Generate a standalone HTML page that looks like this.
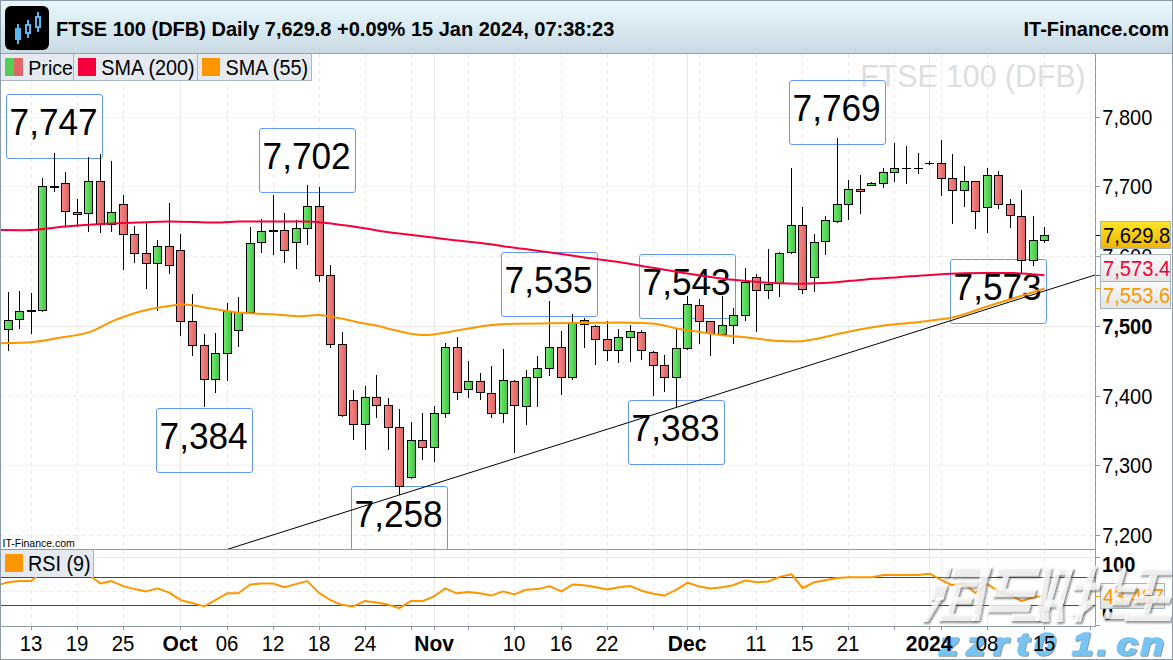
<!DOCTYPE html>
<html><head><meta charset="utf-8"><title>FTSE 100 chart</title>
<style>html,body{margin:0;padding:0;background:#fff;}body{width:1173px;height:660px;overflow:hidden;position:relative;font-family:"Liberation Sans",sans-serif;}</style>
</head><body>
<svg width="1173" height="660" viewBox="0 0 1173 660" style="position:absolute;left:0;top:0" font-family="Liberation Sans, sans-serif"><defs>
<linearGradient id="hdr" x1="0" y1="0" x2="0" y2="1"><stop offset="0" stop-color="#e8f9fe"/><stop offset="1" stop-color="#c8d9e2"/></linearGradient>
<linearGradient id="gG" x1="0" y1="0" x2="1" y2="0"><stop offset="0" stop-color="#6ee86e"/><stop offset="1" stop-color="#44c844"/></linearGradient>
<linearGradient id="gR" x1="0" y1="0" x2="1" y2="0"><stop offset="0" stop-color="#f88686"/><stop offset="1" stop-color="#dc6464"/></linearGradient>
<linearGradient id="gY" x1="0" y1="0" x2="0" y2="1"><stop offset="0" stop-color="#ffe428"/><stop offset="1" stop-color="#f0b400"/></linearGradient>
<linearGradient id="gW" x1="0" y1="0" x2="0" y2="1"><stop offset="0" stop-color="#fbfbfb"/><stop offset="1" stop-color="#e4e4e4"/></linearGradient>
<clipPath id="cMain"><rect x="1" y="54" width="1094" height="495"/></clipPath>
<clipPath id="cRsi"><rect x="1" y="550" width="1094" height="76"/></clipPath>
<filter id="wsh" x="-10%" y="-10%" width="130%" height="130%"><feGaussianBlur in="SourceAlpha" stdDeviation="1"/><feOffset dx="2" dy="2" result="b"/><feFlood flood-color="#444" flood-opacity="0.85"/><feComposite in2="b" operator="in" result="s"/><feMerge><feMergeNode in="s"/><feMergeNode in="SourceGraphic"/></feMerge></filter>
<filter id="bsh" x="-10%" y="-10%" width="130%" height="130%"><feOffset in="SourceAlpha" dx="1.2" dy="1.2" result="o"/><feFlood flood-color="#8090a8" flood-opacity="0.9"/><feComposite in2="o" operator="in" result="s"/><feMerge><feMergeNode in="s"/><feMergeNode in="SourceGraphic"/></feMerge></filter>
</defs><rect x="0" y="0" width="1173" height="660" fill="#ffffff"/><rect x="0" y="0" width="1173" height="54" fill="url(#hdr)"/><rect x="0" y="53" width="1173" height="1" fill="#8fa2ad"/><rect x="5" y="6" width="44" height="44" rx="6" fill="#000"/><rect x="17" y="24" width="2" height="20" fill="#5cb6ee"/><rect x="15" y="28" width="6" height="12" fill="#5cb6ee"/><rect x="27" y="20" width="2" height="18" fill="#5cb6ee"/><rect x="26" y="25" width="4" height="8" fill="#000" stroke="#5cb6ee" stroke-width="2"/><rect x="37" y="12" width="2" height="20" fill="#5cb6ee"/><rect x="36" y="17" width="4" height="10" fill="#000" stroke="#5cb6ee" stroke-width="2"/><text transform="translate(56,36) scale(1,1.04)" font-size="20" fill="#000" font-weight="bold">FTSE 100 (DFB) Daily 7,629.8 +0.09% 15 Jan 2024, 07:38:23</text><text transform="translate(1169,36) scale(1,1.04)" font-size="20" fill="#000" font-weight="bold" text-anchor="end">IT-Finance.com</text><line x1="1" y1="117.5" x2="1095" y2="117.5" stroke="#eaeaea" stroke-width="1" stroke-dasharray="4,4"/><line x1="1" y1="186.5" x2="1095" y2="186.5" stroke="#eaeaea" stroke-width="1" stroke-dasharray="4,4"/><line x1="1" y1="256.5" x2="1095" y2="256.5" stroke="#eaeaea" stroke-width="1" stroke-dasharray="4,4"/><line x1="1" y1="326.5" x2="1095" y2="326.5" stroke="#eaeaea" stroke-width="1"/><line x1="1" y1="396.5" x2="1095" y2="396.5" stroke="#eaeaea" stroke-width="1" stroke-dasharray="4,4"/><line x1="1" y1="465.5" x2="1095" y2="465.5" stroke="#eaeaea" stroke-width="1" stroke-dasharray="4,4"/><line x1="1" y1="535.5" x2="1095" y2="535.5" stroke="#eaeaea" stroke-width="1" stroke-dasharray="4,4"/><line x1="31.5" y1="54" x2="31.5" y2="549" stroke="#eaeaea" stroke-width="1" stroke-dasharray="4,4"/><line x1="31.5" y1="550" x2="31.5" y2="626" stroke="#eaeaea" stroke-width="1" stroke-dasharray="4,4"/><line x1="77.5" y1="54" x2="77.5" y2="549" stroke="#eaeaea" stroke-width="1" stroke-dasharray="4,4"/><line x1="77.5" y1="550" x2="77.5" y2="626" stroke="#eaeaea" stroke-width="1" stroke-dasharray="4,4"/><line x1="123.5" y1="54" x2="123.5" y2="549" stroke="#eaeaea" stroke-width="1" stroke-dasharray="4,4"/><line x1="123.5" y1="550" x2="123.5" y2="626" stroke="#eaeaea" stroke-width="1" stroke-dasharray="4,4"/><line x1="180.5" y1="54" x2="180.5" y2="549" stroke="#e8e8e8" stroke-width="1"/><line x1="180.5" y1="550" x2="180.5" y2="626" stroke="#e8e8e8" stroke-width="1"/><line x1="227.5" y1="54" x2="227.5" y2="549" stroke="#eaeaea" stroke-width="1" stroke-dasharray="4,4"/><line x1="227.5" y1="550" x2="227.5" y2="626" stroke="#eaeaea" stroke-width="1" stroke-dasharray="4,4"/><line x1="273.5" y1="54" x2="273.5" y2="549" stroke="#eaeaea" stroke-width="1" stroke-dasharray="4,4"/><line x1="273.5" y1="550" x2="273.5" y2="626" stroke="#eaeaea" stroke-width="1" stroke-dasharray="4,4"/><line x1="319.5" y1="54" x2="319.5" y2="549" stroke="#eaeaea" stroke-width="1" stroke-dasharray="4,4"/><line x1="319.5" y1="550" x2="319.5" y2="626" stroke="#eaeaea" stroke-width="1" stroke-dasharray="4,4"/><line x1="365.5" y1="54" x2="365.5" y2="549" stroke="#eaeaea" stroke-width="1" stroke-dasharray="4,4"/><line x1="365.5" y1="550" x2="365.5" y2="626" stroke="#eaeaea" stroke-width="1" stroke-dasharray="4,4"/><line x1="411.5" y1="54" x2="411.5" y2="549" stroke="#eaeaea" stroke-width="1" stroke-dasharray="4,4"/><line x1="411.5" y1="550" x2="411.5" y2="626" stroke="#eaeaea" stroke-width="1" stroke-dasharray="4,4"/><line x1="434.5" y1="54" x2="434.5" y2="549" stroke="#e8e8e8" stroke-width="1"/><line x1="434.5" y1="550" x2="434.5" y2="626" stroke="#e8e8e8" stroke-width="1"/><line x1="468.5" y1="54" x2="468.5" y2="549" stroke="#eaeaea" stroke-width="1" stroke-dasharray="4,4"/><line x1="468.5" y1="550" x2="468.5" y2="626" stroke="#eaeaea" stroke-width="1" stroke-dasharray="4,4"/><line x1="514.5" y1="54" x2="514.5" y2="549" stroke="#eaeaea" stroke-width="1" stroke-dasharray="4,4"/><line x1="514.5" y1="550" x2="514.5" y2="626" stroke="#eaeaea" stroke-width="1" stroke-dasharray="4,4"/><line x1="561.5" y1="54" x2="561.5" y2="549" stroke="#eaeaea" stroke-width="1" stroke-dasharray="4,4"/><line x1="561.5" y1="550" x2="561.5" y2="626" stroke="#eaeaea" stroke-width="1" stroke-dasharray="4,4"/><line x1="607.5" y1="54" x2="607.5" y2="549" stroke="#eaeaea" stroke-width="1" stroke-dasharray="4,4"/><line x1="607.5" y1="550" x2="607.5" y2="626" stroke="#eaeaea" stroke-width="1" stroke-dasharray="4,4"/><line x1="653.5" y1="54" x2="653.5" y2="549" stroke="#eaeaea" stroke-width="1" stroke-dasharray="4,4"/><line x1="653.5" y1="550" x2="653.5" y2="626" stroke="#eaeaea" stroke-width="1" stroke-dasharray="4,4"/><line x1="687.5" y1="54" x2="687.5" y2="549" stroke="#e8e8e8" stroke-width="1"/><line x1="687.5" y1="550" x2="687.5" y2="626" stroke="#e8e8e8" stroke-width="1"/><line x1="699.5" y1="54" x2="699.5" y2="549" stroke="#eaeaea" stroke-width="1" stroke-dasharray="4,4"/><line x1="699.5" y1="550" x2="699.5" y2="626" stroke="#eaeaea" stroke-width="1" stroke-dasharray="4,4"/><line x1="756.5" y1="54" x2="756.5" y2="549" stroke="#eaeaea" stroke-width="1" stroke-dasharray="4,4"/><line x1="756.5" y1="550" x2="756.5" y2="626" stroke="#eaeaea" stroke-width="1" stroke-dasharray="4,4"/><line x1="802.5" y1="54" x2="802.5" y2="549" stroke="#eaeaea" stroke-width="1" stroke-dasharray="4,4"/><line x1="802.5" y1="550" x2="802.5" y2="626" stroke="#eaeaea" stroke-width="1" stroke-dasharray="4,4"/><line x1="848.5" y1="54" x2="848.5" y2="549" stroke="#eaeaea" stroke-width="1" stroke-dasharray="4,4"/><line x1="848.5" y1="550" x2="848.5" y2="626" stroke="#eaeaea" stroke-width="1" stroke-dasharray="4,4"/><line x1="894.5" y1="54" x2="894.5" y2="549" stroke="#eaeaea" stroke-width="1" stroke-dasharray="4,4"/><line x1="894.5" y1="550" x2="894.5" y2="626" stroke="#eaeaea" stroke-width="1" stroke-dasharray="4,4"/><line x1="929.5" y1="54" x2="929.5" y2="549" stroke="#e8e8e8" stroke-width="1"/><line x1="929.5" y1="550" x2="929.5" y2="626" stroke="#e8e8e8" stroke-width="1"/><line x1="941.5" y1="54" x2="941.5" y2="549" stroke="#eaeaea" stroke-width="1" stroke-dasharray="4,4"/><line x1="941.5" y1="550" x2="941.5" y2="626" stroke="#eaeaea" stroke-width="1" stroke-dasharray="4,4"/><line x1="987.5" y1="54" x2="987.5" y2="549" stroke="#eaeaea" stroke-width="1" stroke-dasharray="4,4"/><line x1="987.5" y1="550" x2="987.5" y2="626" stroke="#eaeaea" stroke-width="1" stroke-dasharray="4,4"/><line x1="1044.5" y1="54" x2="1044.5" y2="549" stroke="#eaeaea" stroke-width="1" stroke-dasharray="4,4"/><line x1="1044.5" y1="550" x2="1044.5" y2="626" stroke="#eaeaea" stroke-width="1" stroke-dasharray="4,4"/><line x1="1090.5" y1="54" x2="1090.5" y2="549" stroke="#eaeaea" stroke-width="1" stroke-dasharray="4,4"/><line x1="1090.5" y1="550" x2="1090.5" y2="626" stroke="#eaeaea" stroke-width="1" stroke-dasharray="4,4"/><text transform="translate(860.2,86.8) scale(1,1.05)" font-size="30.3" fill="#dedede">FTSE 100 (DFB)</text><text transform="translate(2.5,547) scale(1,1.0)" font-size="10.5" fill="#000">IT-Finance.com</text><rect x="6.5" y="94.5" width="96.0" height="64.0" rx="2.5" fill="none" stroke="#6398fa" stroke-width="1" clip-path="url(#cMain)"/><text transform="translate(53.6,135) scale(1,1.04)" font-size="35.2" fill="#000" text-anchor="middle">7,747</text><rect x="259.5" y="128.5" width="96.0" height="64.0" rx="2.5" fill="none" stroke="#6398fa" stroke-width="1" clip-path="url(#cMain)"/><text transform="translate(306.6,169) scale(1,1.04)" font-size="35.2" fill="#000" text-anchor="middle">7,702</text><rect x="789.5" y="80.5" width="96.0" height="64.0" rx="2.5" fill="none" stroke="#6398fa" stroke-width="1" clip-path="url(#cMain)"/><text transform="translate(836.6,121) scale(1,1.04)" font-size="35.2" fill="#000" text-anchor="middle">7,769</text><rect x="156.5" y="408.5" width="96.0" height="64.0" rx="2.5" fill="none" stroke="#6398fa" stroke-width="1" clip-path="url(#cMain)"/><text transform="translate(203.6,449) scale(1,1.04)" font-size="35.2" fill="#000" text-anchor="middle">7,384</text><rect x="351.5" y="486.5" width="96.0" height="64.0" rx="2.5" fill="none" stroke="#6398fa" stroke-width="1" clip-path="url(#cMain)"/><text transform="translate(398.6,527) scale(1,1.04)" font-size="35.2" fill="#000" text-anchor="middle">7,258</text><rect x="501.5" y="252.5" width="96.0" height="64.0" rx="2.5" fill="none" stroke="#6398fa" stroke-width="1" clip-path="url(#cMain)"/><text transform="translate(548.6,293) scale(1,1.04)" font-size="35.2" fill="#000" text-anchor="middle">7,535</text><rect x="639.5" y="254.5" width="96.0" height="64.0" rx="2.5" fill="none" stroke="#6398fa" stroke-width="1" clip-path="url(#cMain)"/><text transform="translate(686.6,295) scale(1,1.04)" font-size="35.2" fill="#000" text-anchor="middle">7,543</text><rect x="628.5" y="400.5" width="96.0" height="64.0" rx="2.5" fill="none" stroke="#6398fa" stroke-width="1" clip-path="url(#cMain)"/><text transform="translate(675.6,441) scale(1,1.04)" font-size="35.2" fill="#000" text-anchor="middle">7,383</text><rect x="950.5" y="259.5" width="96.0" height="64.0" rx="2.5" fill="none" stroke="#6398fa" stroke-width="1" clip-path="url(#cMain)"/><text transform="translate(997.6,300) scale(1,1.04)" font-size="35.2" fill="#000" text-anchor="middle">7,573</text><g clip-path="url(#cMain)"><rect x="8" y="292" width="1" height="59" fill="#000"/><rect x="4" y="320" width="9" height="10" fill="#000"/><rect x="5" y="321" width="7" height="8" fill="url(#gG)"/><rect x="19" y="291" width="1" height="38" fill="#000"/><rect x="15" y="311" width="9" height="9" fill="#000"/><rect x="16" y="312" width="7" height="7" fill="url(#gG)"/><rect x="31" y="293" width="1" height="41" fill="#000"/><rect x="27" y="310" width="9" height="2" fill="#000"/><rect x="42" y="178" width="1" height="134" fill="#000"/><rect x="38" y="186" width="9" height="125" fill="#000"/><rect x="39" y="187" width="7" height="123" fill="url(#gG)"/><rect x="54" y="153" width="1" height="39" fill="#000"/><rect x="50" y="186" width="9" height="2" fill="#000"/><rect x="65" y="172" width="1" height="56" fill="#000"/><rect x="61" y="183" width="9" height="29" fill="#000"/><rect x="62" y="184" width="7" height="27" fill="url(#gR)"/><rect x="77" y="199" width="1" height="28" fill="#000"/><rect x="73" y="212" width="9" height="3" fill="#000"/><rect x="74" y="213" width="7" height="1" fill="url(#gR)"/><rect x="88" y="157" width="1" height="75" fill="#000"/><rect x="84" y="181" width="9" height="33" fill="#000"/><rect x="85" y="182" width="7" height="31" fill="url(#gG)"/><rect x="100" y="154" width="1" height="79" fill="#000"/><rect x="96" y="181" width="9" height="44" fill="#000"/><rect x="97" y="182" width="7" height="42" fill="url(#gR)"/><rect x="111" y="161" width="1" height="71" fill="#000"/><rect x="107" y="212" width="9" height="13" fill="#000"/><rect x="108" y="213" width="7" height="11" fill="url(#gG)"/><rect x="123" y="195" width="1" height="75" fill="#000"/><rect x="119" y="204" width="9" height="31" fill="#000"/><rect x="120" y="205" width="7" height="29" fill="url(#gR)"/><rect x="134" y="226" width="1" height="37" fill="#000"/><rect x="130" y="234" width="9" height="20" fill="#000"/><rect x="131" y="235" width="7" height="18" fill="url(#gR)"/><rect x="146" y="223" width="1" height="66" fill="#000"/><rect x="142" y="253" width="9" height="11" fill="#000"/><rect x="143" y="254" width="7" height="9" fill="url(#gR)"/><rect x="157" y="240" width="1" height="71" fill="#000"/><rect x="153" y="246" width="9" height="18" fill="#000"/><rect x="154" y="247" width="7" height="16" fill="url(#gG)"/><rect x="169" y="203" width="1" height="71" fill="#000"/><rect x="165" y="246" width="9" height="20" fill="#000"/><rect x="166" y="247" width="7" height="18" fill="url(#gR)"/><rect x="180" y="234" width="1" height="102" fill="#000"/><rect x="176" y="250" width="9" height="72" fill="#000"/><rect x="177" y="251" width="7" height="70" fill="url(#gR)"/><rect x="192" y="294" width="1" height="62" fill="#000"/><rect x="188" y="321" width="9" height="25" fill="#000"/><rect x="189" y="322" width="7" height="23" fill="url(#gR)"/><rect x="204" y="334" width="1" height="73" fill="#000"/><rect x="200" y="345" width="9" height="35" fill="#000"/><rect x="201" y="346" width="7" height="33" fill="url(#gR)"/><rect x="215" y="333" width="1" height="60" fill="#000"/><rect x="211" y="353" width="9" height="27" fill="#000"/><rect x="212" y="354" width="7" height="25" fill="url(#gG)"/><rect x="227" y="303" width="1" height="78" fill="#000"/><rect x="223" y="311" width="9" height="43" fill="#000"/><rect x="224" y="312" width="7" height="41" fill="url(#gG)"/><rect x="238" y="297" width="1" height="50" fill="#000"/><rect x="234" y="312" width="9" height="19" fill="#000"/><rect x="235" y="313" width="7" height="17" fill="url(#gG)"/><rect x="250" y="227" width="1" height="86" fill="#000"/><rect x="246" y="243" width="9" height="70" fill="#000"/><rect x="247" y="244" width="7" height="68" fill="url(#gG)"/><rect x="261" y="219" width="1" height="34" fill="#000"/><rect x="257" y="231" width="9" height="12" fill="#000"/><rect x="258" y="232" width="7" height="10" fill="url(#gG)"/><rect x="273" y="195" width="1" height="60" fill="#000"/><rect x="269" y="230" width="9" height="2" fill="#000"/><rect x="284" y="213" width="1" height="50" fill="#000"/><rect x="280" y="230" width="9" height="21" fill="#000"/><rect x="281" y="231" width="7" height="19" fill="url(#gR)"/><rect x="296" y="220" width="1" height="49" fill="#000"/><rect x="292" y="228" width="9" height="15" fill="#000"/><rect x="293" y="229" width="7" height="13" fill="url(#gG)"/><rect x="307" y="185" width="1" height="60" fill="#000"/><rect x="303" y="206" width="9" height="23" fill="#000"/><rect x="304" y="207" width="7" height="21" fill="url(#gG)"/><rect x="319" y="187" width="1" height="95" fill="#000"/><rect x="315" y="206" width="9" height="70" fill="#000"/><rect x="316" y="207" width="7" height="68" fill="url(#gR)"/><rect x="330" y="265" width="1" height="83" fill="#000"/><rect x="326" y="275" width="9" height="70" fill="#000"/><rect x="327" y="276" width="7" height="68" fill="url(#gR)"/><rect x="342" y="332" width="1" height="85" fill="#000"/><rect x="338" y="344" width="9" height="72" fill="#000"/><rect x="339" y="345" width="7" height="70" fill="url(#gR)"/><rect x="353" y="390" width="1" height="50" fill="#000"/><rect x="349" y="400" width="9" height="25" fill="#000"/><rect x="350" y="401" width="7" height="23" fill="url(#gR)"/><rect x="365" y="386" width="1" height="64" fill="#000"/><rect x="361" y="397" width="9" height="28" fill="#000"/><rect x="362" y="398" width="7" height="26" fill="url(#gG)"/><rect x="376" y="375" width="1" height="43" fill="#000"/><rect x="372" y="397" width="9" height="9" fill="#000"/><rect x="373" y="398" width="7" height="7" fill="url(#gR)"/><rect x="388" y="398" width="1" height="52" fill="#000"/><rect x="384" y="405" width="9" height="23" fill="#000"/><rect x="385" y="406" width="7" height="21" fill="url(#gR)"/><rect x="399" y="409" width="1" height="86" fill="#000"/><rect x="395" y="427" width="9" height="60" fill="#000"/><rect x="396" y="428" width="7" height="58" fill="url(#gR)"/><rect x="411" y="422" width="1" height="57" fill="#000"/><rect x="407" y="440" width="9" height="38" fill="#000"/><rect x="408" y="441" width="7" height="36" fill="url(#gG)"/><rect x="422" y="413" width="1" height="47" fill="#000"/><rect x="418" y="440" width="9" height="8" fill="#000"/><rect x="419" y="441" width="7" height="6" fill="url(#gR)"/><rect x="434" y="406" width="1" height="56" fill="#000"/><rect x="430" y="413" width="9" height="35" fill="#000"/><rect x="431" y="414" width="7" height="33" fill="url(#gG)"/><rect x="445" y="343" width="1" height="75" fill="#000"/><rect x="441" y="347" width="9" height="67" fill="#000"/><rect x="442" y="348" width="7" height="65" fill="url(#gG)"/><rect x="457" y="337" width="1" height="63" fill="#000"/><rect x="453" y="347" width="9" height="46" fill="#000"/><rect x="454" y="348" width="7" height="44" fill="url(#gR)"/><rect x="468" y="361" width="1" height="37" fill="#000"/><rect x="464" y="381" width="9" height="9" fill="#000"/><rect x="465" y="382" width="7" height="7" fill="url(#gG)"/><rect x="480" y="373" width="1" height="27" fill="#000"/><rect x="476" y="381" width="9" height="12" fill="#000"/><rect x="477" y="382" width="7" height="10" fill="url(#gR)"/><rect x="491" y="366" width="1" height="52" fill="#000"/><rect x="487" y="393" width="9" height="21" fill="#000"/><rect x="488" y="394" width="7" height="19" fill="url(#gR)"/><rect x="503" y="349" width="1" height="74" fill="#000"/><rect x="499" y="380" width="9" height="34" fill="#000"/><rect x="500" y="381" width="7" height="32" fill="url(#gG)"/><rect x="514" y="380" width="1" height="73" fill="#000"/><rect x="510" y="381" width="9" height="25" fill="#000"/><rect x="511" y="382" width="7" height="23" fill="url(#gR)"/><rect x="526" y="370" width="1" height="55" fill="#000"/><rect x="522" y="377" width="9" height="30" fill="#000"/><rect x="523" y="378" width="7" height="28" fill="url(#gG)"/><rect x="537" y="356" width="1" height="51" fill="#000"/><rect x="533" y="368" width="9" height="10" fill="#000"/><rect x="534" y="369" width="7" height="8" fill="url(#gG)"/><rect x="549" y="301" width="1" height="75" fill="#000"/><rect x="545" y="347" width="9" height="22" fill="#000"/><rect x="546" y="348" width="7" height="20" fill="url(#gG)"/><rect x="561" y="331" width="1" height="64" fill="#000"/><rect x="557" y="347" width="9" height="31" fill="#000"/><rect x="558" y="348" width="7" height="29" fill="url(#gR)"/><rect x="572" y="314" width="1" height="66" fill="#000"/><rect x="568" y="322" width="9" height="56" fill="#000"/><rect x="569" y="323" width="7" height="54" fill="url(#gG)"/><rect x="584" y="318" width="1" height="30" fill="#000"/><rect x="580" y="320" width="9" height="5" fill="#000"/><rect x="581" y="321" width="7" height="3" fill="url(#gR)"/><rect x="595" y="325" width="1" height="40" fill="#000"/><rect x="591" y="326" width="9" height="14" fill="#000"/><rect x="592" y="327" width="7" height="12" fill="url(#gR)"/><rect x="607" y="321" width="1" height="40" fill="#000"/><rect x="603" y="339" width="9" height="12" fill="#000"/><rect x="604" y="340" width="7" height="10" fill="url(#gR)"/><rect x="618" y="329" width="1" height="34" fill="#000"/><rect x="614" y="337" width="9" height="14" fill="#000"/><rect x="615" y="338" width="7" height="12" fill="url(#gG)"/><rect x="630" y="325" width="1" height="37" fill="#000"/><rect x="626" y="331" width="9" height="7" fill="#000"/><rect x="627" y="332" width="7" height="5" fill="url(#gG)"/><rect x="641" y="330" width="1" height="30" fill="#000"/><rect x="637" y="332" width="9" height="19" fill="#000"/><rect x="638" y="333" width="7" height="17" fill="url(#gR)"/><rect x="653" y="351" width="1" height="45" fill="#000"/><rect x="649" y="352" width="9" height="14" fill="#000"/><rect x="650" y="353" width="7" height="12" fill="url(#gR)"/><rect x="664" y="355" width="1" height="37" fill="#000"/><rect x="660" y="365" width="9" height="13" fill="#000"/><rect x="661" y="366" width="7" height="11" fill="url(#gR)"/><rect x="676" y="329" width="1" height="79" fill="#000"/><rect x="672" y="348" width="9" height="30" fill="#000"/><rect x="673" y="349" width="7" height="28" fill="url(#gG)"/><rect x="687" y="296" width="1" height="54" fill="#000"/><rect x="683" y="304" width="9" height="45" fill="#000"/><rect x="684" y="305" width="7" height="43" fill="url(#gG)"/><rect x="699" y="299" width="1" height="45" fill="#000"/><rect x="695" y="305" width="9" height="17" fill="#000"/><rect x="696" y="306" width="7" height="15" fill="url(#gR)"/><rect x="710" y="321" width="1" height="35" fill="#000"/><rect x="706" y="321" width="9" height="13" fill="#000"/><rect x="707" y="322" width="7" height="11" fill="url(#gR)"/><rect x="722" y="296" width="1" height="40" fill="#000"/><rect x="718" y="325" width="9" height="10" fill="#000"/><rect x="719" y="326" width="7" height="8" fill="url(#gG)"/><rect x="733" y="308" width="1" height="36" fill="#000"/><rect x="729" y="315" width="9" height="11" fill="#000"/><rect x="730" y="316" width="7" height="9" fill="url(#gG)"/><rect x="745" y="268" width="1" height="53" fill="#000"/><rect x="741" y="282" width="9" height="34" fill="#000"/><rect x="742" y="283" width="7" height="32" fill="url(#gG)"/><rect x="756" y="274" width="1" height="58" fill="#000"/><rect x="752" y="277" width="9" height="14" fill="#000"/><rect x="753" y="278" width="7" height="12" fill="url(#gR)"/><rect x="768" y="249" width="1" height="50" fill="#000"/><rect x="764" y="284" width="9" height="7" fill="#000"/><rect x="765" y="285" width="7" height="5" fill="url(#gG)"/><rect x="779" y="252" width="1" height="45" fill="#000"/><rect x="775" y="253" width="9" height="31" fill="#000"/><rect x="776" y="254" width="7" height="29" fill="url(#gG)"/><rect x="791" y="168" width="1" height="86" fill="#000"/><rect x="787" y="225" width="9" height="28" fill="#000"/><rect x="788" y="226" width="7" height="26" fill="url(#gG)"/><rect x="802" y="207" width="1" height="87" fill="#000"/><rect x="798" y="225" width="9" height="65" fill="#000"/><rect x="799" y="226" width="7" height="63" fill="url(#gR)"/><rect x="814" y="234" width="1" height="58" fill="#000"/><rect x="810" y="242" width="9" height="36" fill="#000"/><rect x="811" y="243" width="7" height="34" fill="url(#gG)"/><rect x="825" y="216" width="1" height="39" fill="#000"/><rect x="821" y="220" width="9" height="22" fill="#000"/><rect x="822" y="221" width="7" height="20" fill="url(#gG)"/><rect x="837" y="138" width="1" height="85" fill="#000"/><rect x="833" y="204" width="9" height="18" fill="#000"/><rect x="834" y="205" width="7" height="16" fill="url(#gG)"/><rect x="848" y="180" width="1" height="40" fill="#000"/><rect x="844" y="189" width="9" height="16" fill="#000"/><rect x="845" y="190" width="7" height="14" fill="url(#gG)"/><rect x="860" y="175" width="1" height="39" fill="#000"/><rect x="856" y="189" width="9" height="3" fill="#000"/><rect x="857" y="190" width="7" height="1" fill="url(#gR)"/><rect x="871" y="182" width="1" height="4" fill="#000"/><rect x="867" y="183" width="9" height="3" fill="#000"/><rect x="868" y="184" width="7" height="1" fill="url(#gG)"/><rect x="883" y="168" width="1" height="20" fill="#000"/><rect x="879" y="172" width="9" height="12" fill="#000"/><rect x="880" y="173" width="7" height="10" fill="url(#gG)"/><rect x="894" y="143" width="1" height="39" fill="#000"/><rect x="890" y="168" width="9" height="5" fill="#000"/><rect x="891" y="169" width="7" height="3" fill="url(#gG)"/><rect x="906" y="146" width="1" height="38" fill="#000"/><rect x="902" y="168" width="9" height="1" fill="#000"/><rect x="918" y="153" width="1" height="21" fill="#000"/><rect x="914" y="168" width="9" height="1" fill="#000"/><rect x="929" y="161" width="1" height="4" fill="#000"/><rect x="925" y="163" width="9" height="1" fill="#000"/><rect x="941" y="140" width="1" height="56" fill="#000"/><rect x="937" y="163" width="9" height="16" fill="#000"/><rect x="938" y="164" width="7" height="14" fill="url(#gR)"/><rect x="952" y="154" width="1" height="70" fill="#000"/><rect x="948" y="178" width="9" height="13" fill="#000"/><rect x="949" y="179" width="7" height="11" fill="url(#gR)"/><rect x="964" y="166" width="1" height="41" fill="#000"/><rect x="960" y="181" width="9" height="10" fill="#000"/><rect x="961" y="182" width="7" height="8" fill="url(#gG)"/><rect x="975" y="181" width="1" height="48" fill="#000"/><rect x="971" y="181" width="9" height="31" fill="#000"/><rect x="972" y="182" width="7" height="29" fill="url(#gR)"/><rect x="987" y="168" width="1" height="65" fill="#000"/><rect x="983" y="175" width="9" height="33" fill="#000"/><rect x="984" y="176" width="7" height="31" fill="url(#gG)"/><rect x="998" y="171" width="1" height="38" fill="#000"/><rect x="994" y="175" width="9" height="30" fill="#000"/><rect x="995" y="176" width="7" height="28" fill="url(#gR)"/><rect x="1010" y="199" width="1" height="29" fill="#000"/><rect x="1006" y="204" width="9" height="12" fill="#000"/><rect x="1007" y="205" width="7" height="10" fill="url(#gR)"/><rect x="1021" y="190" width="1" height="84" fill="#000"/><rect x="1017" y="216" width="9" height="45" fill="#000"/><rect x="1018" y="217" width="7" height="43" fill="url(#gR)"/><rect x="1033" y="216" width="1" height="50" fill="#000"/><rect x="1029" y="240" width="9" height="21" fill="#000"/><rect x="1030" y="241" width="7" height="19" fill="url(#gG)"/><rect x="1044" y="227" width="1" height="16" fill="#000"/><rect x="1040" y="235" width="9" height="6" fill="#000"/><rect x="1041" y="236" width="7" height="4" fill="url(#gG)"/></g><line x1="227" y1="549.48" x2="1095" y2="275.01" stroke="#000" stroke-width="1" clip-path="url(#cMain)"/><path d="M0,230 C5.23,230 20.07,230.62 31.4,230 C42.73,229.38 56.23,227.32 68,226.3 C79.77,225.28 90.6,224.53 102,223.9 C113.4,223.27 124.98,222.9 136.4,222.5 C147.82,222.1 157.43,221.48 170.5,221.5 C183.57,221.52 203.43,222.6 214.8,222.6 C226.17,222.6 229.03,221.68 238.7,221.5 C248.37,221.32 261.42,221.5 272.8,221.5 C284.18,221.5 298.47,221.28 307,221.5 C315.53,221.72 315.5,221.83 324,222.8 C332.5,223.77 348.67,225.95 358,227.3 C367.33,228.65 370.67,229.57 380,230.9 C389.33,232.23 402.63,233.88 414,235.3 C425.37,236.72 436.82,238.08 448.2,239.4 C459.58,240.72 470.93,241.77 482.3,243.2 C493.67,244.63 505.03,246.47 516.4,248 C527.77,249.53 539.13,250.82 550.5,252.4 C561.87,253.98 573.23,255.9 584.6,257.5 C595.97,259.1 607.33,260.28 618.7,262 C630.07,263.72 641.42,265.88 652.8,267.8 C664.18,269.72 675.63,271.72 687,273.5 C698.37,275.28 710.1,277.17 721,278.5 C731.9,279.83 742.85,280.7 752.4,281.5 C761.95,282.3 770.2,282.93 778.3,283.3 C786.4,283.67 791.82,283.85 801,283.7 C810.18,283.55 822.6,283.12 833.4,282.4 C844.2,281.68 855,280.27 865.8,279.4 C876.6,278.53 887.4,277.95 898.2,277.2 C909,276.45 919.63,275.57 930.6,274.9 C941.57,274.23 953.22,273.52 964,273.2 C974.78,272.88 987.18,273.03 995.3,273 C1003.42,272.97 1006.92,272.83 1012.7,273 C1018.48,273.17 1024.7,273.62 1030,274 C1035.3,274.38 1042.08,275.08 1044.5,275.3" fill="none" stroke="#f5003a" stroke-width="2" stroke-linejoin="round" clip-path="url(#cMain)"/><path d="M0,343.2 C5.23,343.03 21.73,343.05 31.4,342.2 C41.07,341.35 48.45,339.73 58,338.1 C67.55,336.47 79.62,335.23 88.7,332.4 C97.78,329.57 103.42,324.7 112.5,321.1 C121.58,317.5 133.53,313.35 143.2,310.8 C152.87,308.25 163.1,306.82 170.5,305.8 C177.9,304.78 180.78,304.25 187.6,304.7 C194.42,305.15 202.88,307.18 211.4,308.5 C219.92,309.82 228.47,311.63 238.7,312.6 C248.93,313.57 262.58,313.68 272.8,314.3 C283.02,314.92 292.33,316.18 300,316.3 C307.67,316.42 312.55,314.75 318.8,315 C325.05,315.25 331.25,316.65 337.5,317.8 C343.75,318.95 350.05,320.65 356.3,321.9 C362.55,323.15 368.75,323.95 375,325.3 C381.25,326.65 387.53,328.53 393.8,330 C400.07,331.47 407.9,333.27 412.6,334.1 C417.3,334.93 418.88,334.9 422,335 C425.12,335.1 426.63,335.25 431.3,334.7 C435.97,334.15 443.73,332.73 450,331.7 C456.27,330.67 462.63,329.52 468.9,328.5 C475.17,327.48 481.35,326.33 487.6,325.6 C493.85,324.87 501,324.4 506.4,324.1 C511.8,323.8 512.65,323.93 520,323.8 C527.35,323.67 539.73,323.43 550.5,323.3 C561.27,323.17 573.23,323.12 584.6,323 C595.97,322.88 609.47,322.6 618.7,322.6 C627.93,322.6 633.45,322.72 640,323 C646.55,323.28 651.88,323.38 658,324.3 C664.12,325.22 669.7,327.22 676.7,328.5 C683.7,329.78 692.78,330.92 700,332 C707.22,333.08 713.33,334.2 720,335 C726.67,335.8 733.33,336.13 740,336.8 C746.67,337.47 753.33,338.3 760,339 C766.67,339.7 773.33,340.62 780,341 C786.67,341.38 793.8,341.68 800,341.3 C806.2,340.92 808.93,340.32 817.2,338.7 C825.47,337.08 838.8,333.75 849.6,331.6 C860.4,329.45 871.2,327.32 882,325.8 C892.8,324.28 903.6,323.7 914.4,322.5 C925.2,321.3 938.5,319.98 946.8,318.6 C955.1,317.22 957.25,316.3 964.2,314.2 C971.15,312.1 980.42,308.62 988.5,306 C996.58,303.38 1003.37,301.42 1012.7,298.5 C1022.03,295.58 1039.2,290.17 1044.5,288.5" fill="none" stroke="#ff9600" stroke-width="2" stroke-linejoin="round" clip-path="url(#cMain)"/><rect x="1" y="54" width="311" height="27" fill="#e4eaf0"/><rect x="1" y="80" width="311" height="1" fill="#a9b6bf"/><rect x="311" y="54" width="1" height="27" fill="#a9b6bf"/><rect x="73" y="54" width="1" height="27" fill="#a9b6bf"/><rect x="197" y="54" width="1" height="27" fill="#a9b6bf"/><rect x="5" y="58" width="9" height="18" fill="#55cc55"/><rect x="14" y="58" width="9" height="18" fill="#e06666"/><text transform="translate(28.3,75) scale(1,1.07)" font-size="19.6" fill="#000">Price</text><rect x="78" y="58" width="18" height="18" fill="#f5003a"/><text transform="translate(101.2,75) scale(1,1.07)" font-size="19.8" fill="#000">SMA (200)</text><rect x="202" y="58" width="18" height="18" fill="#ff9600"/><text transform="translate(225.5,75) scale(1,1.07)" font-size="19.8" fill="#000">SMA (55)</text><rect x="0" y="549" width="1096" height="1" fill="#8c9ca6"/><line x1="1" y1="557.5" x2="1095" y2="557.5" stroke="#e8e8e8" stroke-width="1"/><line x1="1" y1="591.5" x2="1095" y2="591.5" stroke="#eaeaea" stroke-width="1" stroke-dasharray="4,4"/><line x1="1" y1="577.5" x2="1095" y2="577.5" stroke="#3636d0" stroke-width="1"/><line x1="1" y1="605.5" x2="1095" y2="605.5" stroke="#3636d0" stroke-width="1"/><polyline points="0,584.5 8.1,582.2 19.6,581.1 31.1,581.1 35.7,577.2 40,560 92.1,560 92.1,577.2 100.1,583.4 111.6,581.1 123.2,586.1 134.7,589.1 146.2,591.4 157.7,588.4 169.2,592.6 180.7,600.2 192.2,603 204.2,606.4 215.2,600.2 227.2,593.3 238.3,593.3 250.2,584.5 261.3,583.4 272.7,583.4 284.2,587.3 295.7,584.1 307.2,581.1 318.7,592.6 330.2,600 341.7,604.8 353.2,606.4 364.7,601.1 376.3,602.5 387.8,604.6 399.3,608.2 410.8,601.1 422.3,601.1 433.8,596.5 445.3,588.4 456.8,593.3 468.3,592.1 479.8,593.3 491.4,595.6 502.9,591.4 514.4,594.4 525.9,589.8 538,589.1 549.5,586.1 561.4,591.4 572.5,584.5 584,585.2 596,587.3 607.5,589.4 619,587.3 630.5,586.1 642,591 653.5,593.7 664.3,595.6 676.5,589.6 687.6,582.7 699.1,586.4 710.6,588.4 722.1,587.3 732.9,585.2 745.6,580.4 757.1,582.2 768.2,581.5 779.7,576.9 791.5,574.2 802.6,588 814.5,582.2 826,579.9 837.5,578.1 849,577.2 872.1,577.2 883.6,574.9 895.1,574.9 918.1,574.9 929.6,573.7 941.1,579.9 951.5,585 964.2,583.4 975.2,593 987.2,584.1 998.7,591.4 1010.2,594.9 1021.7,601.1 1033.2,597.2 1044.7,596" fill="none" stroke="#ff9600" stroke-width="2" stroke-linejoin="round" clip-path="url(#cRsi)"/><rect x="1" y="550" width="93" height="27" fill="#e4eaf0"/><rect x="93" y="550" width="1" height="27" fill="#a9b6bf"/><rect x="5" y="554" width="18" height="18" fill="#ff9600"/><text transform="translate(28,571) scale(1,1.07)" font-size="19.8" fill="#000">RSI (9)</text><g font-size="33" font-weight="bold" font-style="italic" fill="#78c4f0" stroke="#78c4f0" stroke-width="1.8" stroke-linejoin="round" filter="url(#bsh)"><text transform="translate(939.3,655.2) scale(1.15,0.97)">z</text><text transform="translate(966.2,655.2) scale(1.15,0.97)">z</text><text transform="translate(993,655.2) scale(1.15,0.97)">r</text><text transform="translate(1016.3,655.2) scale(1.15,0.97)">t</text><text transform="translate(1034,655.2) scale(1.15,0.97)">0</text><text transform="translate(1072,655.2) scale(1.15,0.97)">1</text><text transform="translate(1096.7,655.2) scale(1.15,0.97)">.</text><text transform="translate(1116.4,655.2) scale(1.15,0.97)">c</text><text transform="translate(1140.5,655.2) scale(1.15,0.97)">n</text></g><rect x="0" y="626" width="1096" height="1" fill="#8c9ca6"/><rect x="31" y="627" width="1" height="3" fill="#8c9ca6"/><text transform="translate(31.1,651) scale(1,1.06)" font-size="20.4" fill="#000" text-anchor="middle">13</text><rect x="77" y="627" width="1" height="3" fill="#8c9ca6"/><text transform="translate(77.1,651) scale(1,1.06)" font-size="20.4" fill="#000" text-anchor="middle">19</text><rect x="123" y="627" width="1" height="3" fill="#8c9ca6"/><text transform="translate(123.1,651) scale(1,1.06)" font-size="20.4" fill="#000" text-anchor="middle">25</text><rect x="180" y="627" width="1" height="3" fill="#8c9ca6"/><text transform="translate(180.1,651) scale(1,1.03)" font-size="21" fill="#000" font-weight="bold" text-anchor="middle">Oct</text><rect x="227" y="627" width="1" height="3" fill="#8c9ca6"/><text transform="translate(227.1,651) scale(1,1.06)" font-size="20.4" fill="#000" text-anchor="middle">06</text><rect x="273" y="627" width="1" height="3" fill="#8c9ca6"/><text transform="translate(273.1,651) scale(1,1.06)" font-size="20.4" fill="#000" text-anchor="middle">12</text><rect x="319" y="627" width="1" height="3" fill="#8c9ca6"/><text transform="translate(319.1,651) scale(1,1.06)" font-size="20.4" fill="#000" text-anchor="middle">18</text><rect x="365" y="627" width="1" height="3" fill="#8c9ca6"/><text transform="translate(365.1,651) scale(1,1.06)" font-size="20.4" fill="#000" text-anchor="middle">24</text><rect x="411" y="627" width="1" height="3" fill="#8c9ca6"/><rect x="434" y="627" width="1" height="3" fill="#8c9ca6"/><text transform="translate(434.1,651) scale(1,1.03)" font-size="21" fill="#000" font-weight="bold" text-anchor="middle">Nov</text><rect x="468" y="627" width="1" height="3" fill="#8c9ca6"/><rect x="514" y="627" width="1" height="3" fill="#8c9ca6"/><text transform="translate(514.1,651) scale(1,1.06)" font-size="20.4" fill="#000" text-anchor="middle">10</text><rect x="561" y="627" width="1" height="3" fill="#8c9ca6"/><text transform="translate(561.1,651) scale(1,1.06)" font-size="20.4" fill="#000" text-anchor="middle">16</text><rect x="607" y="627" width="1" height="3" fill="#8c9ca6"/><text transform="translate(607.1,651) scale(1,1.06)" font-size="20.4" fill="#000" text-anchor="middle">22</text><rect x="653" y="627" width="1" height="3" fill="#8c9ca6"/><rect x="687" y="627" width="1" height="3" fill="#8c9ca6"/><text transform="translate(687.1,651) scale(1,1.03)" font-size="21" fill="#000" font-weight="bold" text-anchor="middle">Dec</text><rect x="699" y="627" width="1" height="3" fill="#8c9ca6"/><rect x="756" y="627" width="1" height="3" fill="#8c9ca6"/><text transform="translate(756.1,651) scale(1,1.06)" font-size="20.4" fill="#000" text-anchor="middle">11</text><rect x="802" y="627" width="1" height="3" fill="#8c9ca6"/><text transform="translate(802.1,651) scale(1,1.06)" font-size="20.4" fill="#000" text-anchor="middle">15</text><rect x="848" y="627" width="1" height="3" fill="#8c9ca6"/><text transform="translate(848.1,651) scale(1,1.06)" font-size="20.4" fill="#000" text-anchor="middle">21</text><rect x="894" y="627" width="1" height="3" fill="#8c9ca6"/><rect x="929" y="627" width="1" height="3" fill="#8c9ca6"/><text transform="translate(929.1,651) scale(1,1.03)" font-size="21" fill="#000" font-weight="bold" text-anchor="middle">2024</text><rect x="941" y="627" width="1" height="3" fill="#8c9ca6"/><rect x="987" y="627" width="1" height="3" fill="#8c9ca6"/><text transform="translate(987.1,651) scale(1,1.06)" font-size="20.4" fill="#000" text-anchor="middle">08</text><rect x="1044" y="627" width="1" height="3" fill="#8c9ca6"/><text transform="translate(1044.1,651) scale(1,1.06)" font-size="20.4" fill="#000" text-anchor="middle">15</text><rect x="1090" y="627" width="1" height="3" fill="#8c9ca6"/><rect x="1095" y="54" width="1" height="572" fill="#8c9ca6"/><rect x="1096" y="117" width="4" height="1" fill="#8c9ca6"/><text transform="translate(1102.3,124.9) scale(1,1.1)" font-size="20" fill="#000">7,800</text><rect x="1096" y="186" width="4" height="1" fill="#8c9ca6"/><text transform="translate(1102.3,193.9) scale(1,1.1)" font-size="20" fill="#000">7,700</text><rect x="1096" y="256" width="4" height="1" fill="#8c9ca6"/><text transform="translate(1102.3,263.9) scale(1,1.1)" font-size="20" fill="#000">7,600</text><rect x="1096" y="326" width="4" height="1" fill="#8c9ca6"/><text transform="translate(1102.3,333.9) scale(1,1.1)" font-size="20" fill="#000" font-weight="bold">7,500</text><rect x="1096" y="396" width="4" height="1" fill="#8c9ca6"/><text transform="translate(1102.3,403.9) scale(1,1.1)" font-size="20" fill="#000">7,400</text><rect x="1096" y="465" width="4" height="1" fill="#8c9ca6"/><text transform="translate(1102.3,472.9) scale(1,1.1)" font-size="20" fill="#000">7,300</text><rect x="1096" y="535" width="4" height="1" fill="#8c9ca6"/><text transform="translate(1102.3,542.9) scale(1,1.1)" font-size="20" fill="#000">7,200</text><rect x="1096" y="235" width="5" height="1" fill="#000"/><rect x="1096" y="275" width="5" height="1" fill="#f5003a"/><rect x="1096" y="288" width="5" height="1" fill="#ff9600"/><rect x="1100.5" y="221.5" width="70" height="27" fill="url(#gY)" stroke="#a8b4bc"/><text transform="translate(1103,243.2) scale(1,1.1)" font-size="20.2" fill="#000">7,629.8</text><rect x="1100.5" y="254.5" width="70" height="27" fill="url(#gW)" stroke="#a8b4bc"/><text transform="translate(1103,276.2) scale(1,1.1)" font-size="20.2" fill="#f5003a">7,573.4</text><rect x="1100.5" y="281.5" width="70" height="27" fill="url(#gW)" stroke="#a8b4bc"/><text transform="translate(1103,303.2) scale(1,1.1)" font-size="20.2" fill="#ff9600">7,553.6</text><rect x="1096" y="557" width="4" height="1" fill="#8c9ca6"/><rect x="1096" y="625" width="4" height="1" fill="#8c9ca6"/><text transform="translate(1102,572) scale(1,1.08)" font-size="20" fill="#000" font-weight="bold">100</text><text transform="translate(1102,620) scale(1,1.08)" font-size="20" fill="#000" font-weight="bold">0</text><rect x="1096" y="596" width="5" height="1" fill="#ff9600"/><rect x="1100.5" y="583.5" width="64" height="25" fill="url(#gW)" stroke="#a8b4bc"/><text transform="translate(1103,604) scale(1,1.08)" font-size="20" fill="#ff9600">43.487</text><g transform="translate(0,622) skewX(-16) translate(0,-622)" fill="#ffffff" fill-opacity="0.75" filter="url(#wsh)"><rect x="930" y="567" width="6" height="10"/><rect x="924" y="584" width="13" height="16"/><rect x="938" y="567" width="38" height="10"/><rect x="944" y="586" width="7" height="30"/><rect x="944" y="580" width="23" height="7"/><rect x="944" y="597" width="22" height="7"/><rect x="938" y="614" width="37" height="7"/><rect x="982" y="567" width="43" height="9"/><rect x="990" y="576" width="6" height="14"/><rect x="985" y="589" width="42" height="8"/><rect x="984" y="603" width="42" height="9"/><rect x="1010" y="614" width="28" height="7"/><rect x="1040" y="568" width="6" height="44"/><rect x="1052" y="568" width="6" height="38"/><rect x="1040" y="568" width="18" height="7"/><rect x="1040" y="600" width="18" height="7"/><rect x="1064" y="583" width="26" height="7"/><rect x="1074" y="566" width="7" height="56"/><rect x="1104" y="568" width="7" height="18"/><rect x="1108" y="586" width="18" height="6"/><rect x="1106" y="598" width="18" height="7"/><rect x="1102" y="612" width="24" height="7"/><rect x="1126" y="568" width="34" height="7"/><rect x="1136" y="575" width="8" height="20"/><rect x="1128" y="596" width="36" height="7"/><rect x="1140" y="603" width="7" height="11"/><rect x="1124" y="614" width="46" height="7"/><polygon points="922,622 928,622 936,597 930,597"/><polygon points="966,567 974,567 979,621 971,621"/><polygon points="1029,567 1036,567 1042,621 1035,621"/><polygon points="1042,622 1049,622 1046,612 1040,612"/><polygon points="1056,622 1063,622 1058,606 1052,606"/><polygon points="1082,600 1089,604 1076,618 1069,614"/></g><rect x="0.5" y="0.5" width="1172" height="659" fill="none" stroke="#8c9ca6"/></svg>
</body></html>
